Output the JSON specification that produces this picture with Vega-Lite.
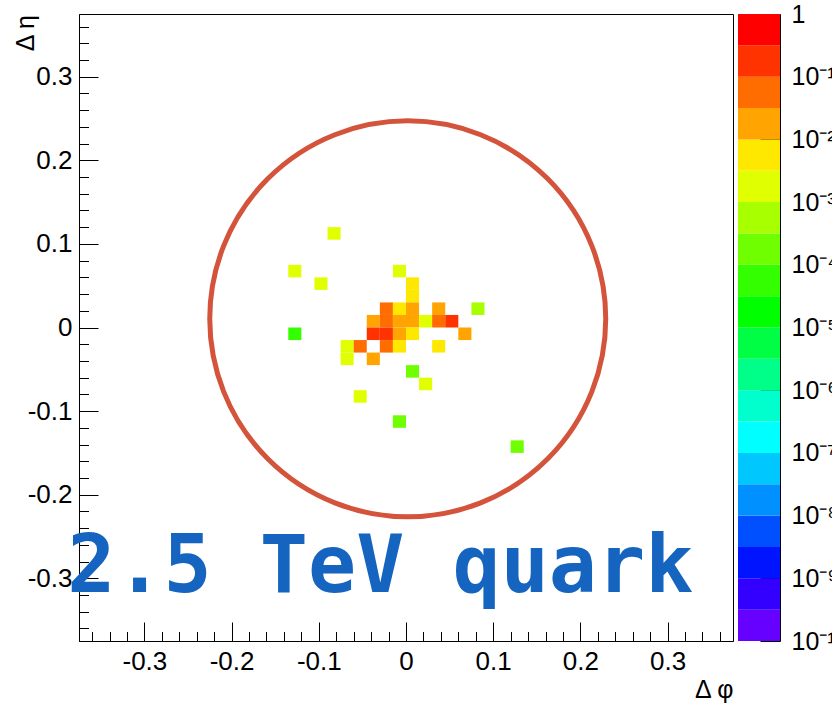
{
  "$schema": "https://vega.github.io/schema/vega-lite/v6.json",
  "padding": {"left": 12, "top": 2, "right": 0, "bottom": 0},
  "background": "white",
  "spacing": 4,
  "config": {
    "font": "Liberation Sans",
    "view": {"stroke": "black", "strokeWidth": 1},
    "axis": {"grid": false, "labelFont": "Liberation Sans", "titleFont": "Liberation Sans", "labelColor": "black", "titleColor": "black", "domainColor": "black", "tickColor": "black", "titleFontWeight": "normal", "domainWidth": 1, "tickWidth": 1}
  },
  "hconcat": [
    {
      "width": 654,
      "height": 627,
      "data": {"values": [
        {"dphi_lo": -0.09, "dphi_hi": -0.075, "deta_lo": 0.105, "deta_hi": 0.12, "value": 0.002},
        {"dphi_lo": -0.135, "dphi_hi": -0.12, "deta_lo": 0.06, "deta_hi": 0.075, "value": 0.002},
        {"dphi_lo": -0.105, "dphi_hi": -0.09, "deta_lo": 0.045, "deta_hi": 0.06, "value": 0.002},
        {"dphi_lo": -0.015, "dphi_hi": 0, "deta_lo": 0.06, "deta_hi": 0.075, "value": 0.002},
        {"dphi_lo": 0, "dphi_hi": 0.015, "deta_lo": 0.045, "deta_hi": 0.06, "value": 0.005},
        {"dphi_lo": 0, "dphi_hi": 0.015, "deta_lo": 0.03, "deta_hi": 0.045, "value": 0.005},
        {"dphi_lo": -0.03, "dphi_hi": -0.015, "deta_lo": 0.015, "deta_hi": 0.03, "value": 0.05},
        {"dphi_lo": -0.015, "dphi_hi": 0, "deta_lo": 0.015, "deta_hi": 0.03, "value": 0.005},
        {"dphi_lo": 0, "dphi_hi": 0.015, "deta_lo": 0.015, "deta_hi": 0.03, "value": 0.02},
        {"dphi_lo": 0.03, "dphi_hi": 0.045, "deta_lo": 0.015, "deta_hi": 0.03, "value": 0.02},
        {"dphi_lo": 0.075, "dphi_hi": 0.09, "deta_lo": 0.015, "deta_hi": 0.03, "value": 0.0006},
        {"dphi_lo": -0.045, "dphi_hi": -0.03, "deta_lo": 0, "deta_hi": 0.015, "value": 0.02},
        {"dphi_lo": -0.03, "dphi_hi": -0.015, "deta_lo": 0, "deta_hi": 0.015, "value": 0.05},
        {"dphi_lo": -0.015, "dphi_hi": 0, "deta_lo": 0, "deta_hi": 0.015, "value": 0.02},
        {"dphi_lo": 0, "dphi_hi": 0.015, "deta_lo": 0, "deta_hi": 0.015, "value": 0.02},
        {"dphi_lo": 0.015, "dphi_hi": 0.03, "deta_lo": 0, "deta_hi": 0.015, "value": 0.002},
        {"dphi_lo": 0.03, "dphi_hi": 0.045, "deta_lo": 0, "deta_hi": 0.015, "value": 0.05},
        {"dphi_lo": 0.045, "dphi_hi": 0.06, "deta_lo": 0, "deta_hi": 0.015, "value": 0.2},
        {"dphi_lo": -0.135, "dphi_hi": -0.12, "deta_lo": -0.015, "deta_hi": 0, "value": 0.00005},
        {"dphi_lo": -0.045, "dphi_hi": -0.03, "deta_lo": -0.015, "deta_hi": 0, "value": 0.2},
        {"dphi_lo": -0.03, "dphi_hi": -0.015, "deta_lo": -0.015, "deta_hi": 0, "value": 0.2},
        {"dphi_lo": -0.015, "dphi_hi": 0, "deta_lo": -0.015, "deta_hi": 0, "value": 0.02},
        {"dphi_lo": 0, "dphi_hi": 0.015, "deta_lo": -0.015, "deta_hi": 0, "value": 0.005},
        {"dphi_lo": 0.06, "dphi_hi": 0.075, "deta_lo": -0.015, "deta_hi": 0, "value": 0.02},
        {"dphi_lo": -0.075, "dphi_hi": -0.06, "deta_lo": -0.03, "deta_hi": -0.015, "value": 0.002},
        {"dphi_lo": -0.06, "dphi_hi": -0.045, "deta_lo": -0.03, "deta_hi": -0.015, "value": 0.05},
        {"dphi_lo": -0.03, "dphi_hi": -0.015, "deta_lo": -0.03, "deta_hi": -0.015, "value": 0.05},
        {"dphi_lo": -0.015, "dphi_hi": 0, "deta_lo": -0.03, "deta_hi": -0.015, "value": 0.005},
        {"dphi_lo": 0.03, "dphi_hi": 0.045, "deta_lo": -0.03, "deta_hi": -0.015, "value": 0.005},
        {"dphi_lo": -0.075, "dphi_hi": -0.06, "deta_lo": -0.045, "deta_hi": -0.03, "value": 0.002},
        {"dphi_lo": -0.045, "dphi_hi": -0.03, "deta_lo": -0.045, "deta_hi": -0.03, "value": 0.02},
        {"dphi_lo": 0, "dphi_hi": 0.015, "deta_lo": -0.06, "deta_hi": -0.045, "value": 0.0002},
        {"dphi_lo": 0.015, "dphi_hi": 0.03, "deta_lo": -0.075, "deta_hi": -0.06, "value": 0.002},
        {"dphi_lo": -0.06, "dphi_hi": -0.045, "deta_lo": -0.09, "deta_hi": -0.075, "value": 0.002},
        {"dphi_lo": -0.015, "dphi_hi": 0, "deta_lo": -0.12, "deta_hi": -0.105, "value": 0.0002},
        {"dphi_lo": 0.12, "dphi_hi": 0.135, "deta_lo": -0.15, "deta_hi": -0.135, "value": 0.0002}
      ]},
      "layer": [
        {
          "mark": {"type": "rect"},
          "encoding": {
            "x": {"field": "dphi_lo", "type": "quantitative",
              "scale": {"domain": [-0.375, 0.375], "nice": false, "zero": false},
              "axis": {"orient": "bottom", "values": [-0.3, -0.2, -0.1, 0, 0.1, 0.2, 0.3], "labelExpr": "'' + datum.value", "ticks": false, "labelFontSize": 26, "labelPadding": 7, "labelFlush": false, "title": "Δ φ", "titleFontSize": 25, "titleAnchor": "end", "titleAlign": "right", "titlePadding": 3}},
            "x2": {"field": "dphi_hi"},
            "y": {"field": "deta_lo", "type": "quantitative",
              "scale": {"domain": [-0.375, 0.375], "nice": false, "zero": false},
              "axis": {"orient": "left", "values": [-0.3, -0.2, -0.1, 0, 0.1, 0.2, 0.3], "labelExpr": "'' + datum.value", "ticks": false, "labelFontSize": 26, "labelPadding": 7, "labelFlush": false, "title": "Δ η", "titleFontSize": 25, "titleAngle": -90, "titleAlign": "right", "titleBaseline": "alphabetic", "titleX": -46, "titleY": 0.5}},
            "y2": {"field": "deta_hi"},
            "color": {"field": "value", "type": "quantitative",
              "scale": {"type": "threshold",
                "domain": [3.1623e-10, 1e-9, 3.1623e-9, 1e-8, 3.1623e-8, 1e-7, 3.1623e-7, 1e-6, 3.1623e-6, 1e-5, 3.1623e-5, 1e-4, 3.1623e-4, 1e-3, 3.1623e-3, 0.01, 0.031623, 0.1, 0.31623],
                "range": ["#6600ff", "#3300ff", "#0014ff", "#0050ff", "#0090ff", "#00c8ff", "#00ffff", "#00ffcc", "#00ff88", "#00ff44", "#00ff00", "#33ff00", "#70ff00", "#a8ff00", "#e0ff00", "#ffe800", "#ffa400", "#ff6c00", "#ff3300", "#ff0000"]},
              "legend": null}
          }
        },
        {
          "data": {"values": [{"shape": "cone"}]},
          "mark": {"type": "point", "shape": "circle", "size": 156816, "filled": false, "stroke": "#d4533b", "strokeWidth": 5, "opacity": 1},
          "encoding": {
            "x": {"datum": 0.002, "type": "quantitative",
              "axis": {"orient": "bottom", "values": [-0.3, -0.2, -0.1, 0, 0.1, 0.2, 0.3], "labels": false, "domain": false, "tickSize": -19, "title": null}},
            "y": {"datum": 0.0104, "type": "quantitative",
              "axis": {"orient": "left", "values": [-0.3, -0.2, -0.1, 0, 0.1, 0.2, 0.3], "labels": false, "domain": false, "tickSize": -19, "title": null}}
          }
        },
        {
          "data": {"values": [{"label": "2.5 TeV quark"}]},
          "mark": {"type": "text", "font": "DejaVu Sans Mono", "fontWeight": "bold", "fontSize": 80, "color": "#1565c0", "align": "center", "baseline": "alphabetic"},
          "encoding": {
            "x": {"datum": -0.0295, "type": "quantitative",
              "axis": {"orient": "bottom", "values": [-0.36, -0.34, -0.32, -0.28, -0.26, -0.24, -0.22, -0.18, -0.16, -0.14, -0.12, -0.08, -0.06, -0.04, -0.02, 0.02, 0.04, 0.06, 0.08, 0.12, 0.14, 0.16, 0.18, 0.22, 0.24, 0.26, 0.28, 0.32, 0.34, 0.36], "labels": false, "domain": false, "tickSize": -9.5, "title": null}},
            "y": {"datum": -0.316, "type": "quantitative",
              "axis": {"orient": "left", "values": [-0.36, -0.34, -0.32, -0.28, -0.26, -0.24, -0.22, -0.18, -0.16, -0.14, -0.12, -0.08, -0.06, -0.04, -0.02, 0.02, 0.04, 0.06, 0.08, 0.12, 0.14, 0.16, 0.18, 0.22, 0.24, 0.26, 0.28, 0.32, 0.34, 0.36], "labels": false, "domain": false, "tickSize": -9.5, "title": null}},
            "text": {"field": "label", "type": "nominal"}
          }
        }
      ],
      "resolve": {"axis": {"x": "independent", "y": "independent"}}
    },
    {
      "width": 42,
      "height": 627,
      "view": {"stroke": null},
      "data": {"values": [
        {"lo": 1e-10, "hi": 3.1623e-10, "mid": 1.7783e-10},
        {"lo": 3.1623e-10, "hi": 1e-9, "mid": 5.6234e-10},
        {"lo": 1e-9, "hi": 3.1623e-9, "mid": 1.7783e-9},
        {"lo": 3.1623e-9, "hi": 1e-8, "mid": 5.6234e-9},
        {"lo": 1e-8, "hi": 3.1623e-8, "mid": 1.7783e-8},
        {"lo": 3.1623e-8, "hi": 1e-7, "mid": 5.6234e-8},
        {"lo": 1e-7, "hi": 3.1623e-7, "mid": 1.7783e-7},
        {"lo": 3.1623e-7, "hi": 1e-6, "mid": 5.6234e-7},
        {"lo": 1e-6, "hi": 3.1623e-6, "mid": 1.7783e-6},
        {"lo": 3.1623e-6, "hi": 1e-5, "mid": 5.6234e-6},
        {"lo": 1e-5, "hi": 3.1623e-5, "mid": 1.7783e-5},
        {"lo": 3.1623e-5, "hi": 1e-4, "mid": 5.6234e-5},
        {"lo": 1e-4, "hi": 3.1623e-4, "mid": 1.7783e-4},
        {"lo": 3.1623e-4, "hi": 1e-3, "mid": 5.6234e-4},
        {"lo": 1e-3, "hi": 3.1623e-3, "mid": 1.7783e-3},
        {"lo": 3.1623e-3, "hi": 0.01, "mid": 5.6234e-3},
        {"lo": 0.01, "hi": 0.031623, "mid": 0.017783},
        {"lo": 0.031623, "hi": 0.1, "mid": 0.056234},
        {"lo": 0.1, "hi": 0.31623, "mid": 0.17783},
        {"lo": 0.31623, "hi": 1, "mid": 0.56234}
      ]},
      "layer": [
        {
          "mark": {"type": "rect"},
          "encoding": {
            "x": {"datum": 0, "type": "quantitative", "scale": {"domain": [0, 1], "nice": false}, "axis": null},
            "x2": {"datum": 1},
            "y": {"field": "lo", "type": "quantitative",
              "scale": {"type": "log", "domain": [1e-10, 1], "nice": false},
              "axis": {"orient": "right", "values": [1e-10, 1e-9, 1e-8, 1e-7, 1e-6, 1e-5, 1e-4, 1e-3, 1e-2, 1e-1, 1], "labelExpr": "datum.value > 0.5 ? '1' : '10' + ['⁻¹','⁻²','⁻³','⁻⁴','⁻⁵','⁻⁶','⁻⁷','⁻⁸','⁻⁹','⁻¹⁰'][round(-log(datum.value)/LN10) - 1]", "ticks": false, "labelFontSize": 25, "labelPadding": 11, "labelFlush": false, "labelOverlap": false, "title": null, "domain": true}},
            "y2": {"field": "hi"},
            "color": {"field": "mid", "type": "quantitative",
              "scale": {"type": "threshold",
                "domain": [3.1623e-10, 1e-9, 3.1623e-9, 1e-8, 3.1623e-8, 1e-7, 3.1623e-7, 1e-6, 3.1623e-6, 1e-5, 3.1623e-5, 1e-4, 3.1623e-4, 1e-3, 3.1623e-3, 0.01, 0.031623, 0.1, 0.31623],
                "range": ["#6600ff", "#3300ff", "#0014ff", "#0050ff", "#0090ff", "#00c8ff", "#00ffff", "#00ffcc", "#00ff88", "#00ff44", "#00ff00", "#33ff00", "#70ff00", "#a8ff00", "#e0ff00", "#ffe800", "#ffa400", "#ff6c00", "#ff3300", "#ff0000"]},
              "legend": null}
          }
        },
        {
          "mark": {"type": "rect", "opacity": 0},
          "encoding": {
            "x": {"datum": 0, "type": "quantitative", "axis": null},
            "x2": {"datum": 1},
            "y": {"field": "lo", "type": "quantitative",
              "axis": {"orient": "right", "values": [1e-10, 1e-9, 1e-8, 1e-7, 1e-6, 1e-5, 1e-4, 1e-3, 1e-2, 1e-1, 1], "labels": false, "domain": false, "tickSize": -20, "title": null}},
            "y2": {"field": "hi"}
          }
        },
        {
          "mark": {"type": "rect", "opacity": 0},
          "encoding": {
            "x": {"datum": 0, "type": "quantitative", "axis": null},
            "x2": {"datum": 1},
            "y": {"field": "lo", "type": "quantitative",
              "axis": {"orient": "right", "values": [2e-10, 3e-10, 4e-10, 5e-10, 6e-10, 7e-10, 8e-10, 9e-10, 2e-9, 3e-9, 4e-9, 5e-9, 6e-9, 7e-9, 8e-9, 9e-9, 2e-8, 3e-8, 4e-8, 5e-8, 6e-8, 7e-8, 8e-8, 9e-8, 2e-7, 3e-7, 4e-7, 5e-7, 6e-7, 7e-7, 8e-7, 9e-7, 2e-6, 3e-6, 4e-6, 5e-6, 6e-6, 7e-6, 8e-6, 9e-6, 2e-5, 3e-5, 4e-5, 5e-5, 6e-5, 7e-5, 8e-5, 9e-5, 2e-4, 3e-4, 4e-4, 5e-4, 6e-4, 7e-4, 8e-4, 9e-4, 0.002, 0.003, 0.004, 0.005, 0.006, 0.007, 0.008, 0.009, 0.02, 0.03, 0.04, 0.05, 0.06, 0.07, 0.08, 0.09, 0.2, 0.3, 0.4, 0.5, 0.6, 0.7, 0.8, 0.9], "labels": false, "domain": false, "tickSize": -10, "title": null}},
            "y2": {"field": "hi"}
          }
        }
      ],
      "resolve": {"axis": {"y": "independent"}}
    }
  ]
}
